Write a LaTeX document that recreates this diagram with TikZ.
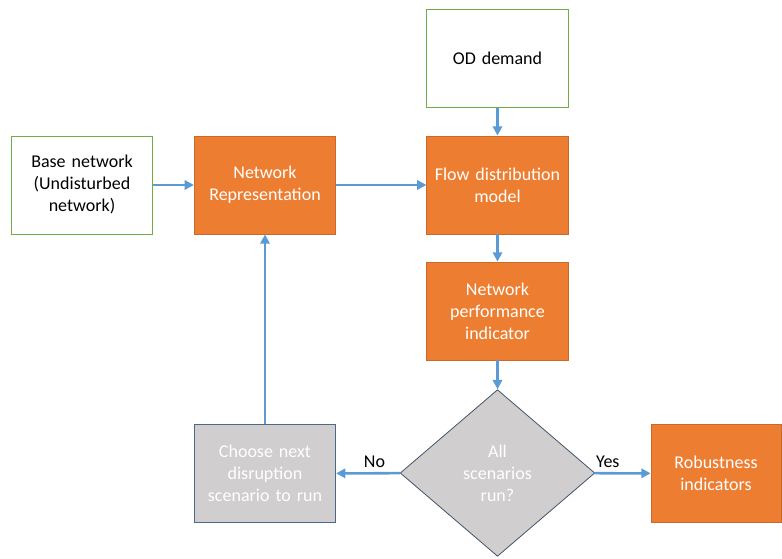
\documentclass[tikz,border=0pt]{standalone}
\usepackage{fontspec}
\setmainfont{Carlito}
\usetikzlibrary{shapes.geometric,arrows.meta}

\definecolor{boxorange}{HTML}{ED7D31}
\definecolor{boxgray}{HTML}{D0CECE}
\definecolor{flowblue}{HTML}{5B9BD5}
\definecolor{edgegreen}{HTML}{70AD47}
\definecolor{edgeslate}{HTML}{44546A}

\tikzset{
  inbox/.style={draw=edgegreen, fill=white, line width=0.6pt, inner xsep=0pt,
    minimum width=106pt, minimum height=73.5pt, align=center, text width=106pt,
    font=\fontsize{13.5}{16.5}\selectfont},
  procbox/.style={inbox, draw=boxorange!85!black, fill=boxorange, text=white},
  loopbox/.style={inbox, draw=edgeslate!70!flowblue, fill=boxgray, text=white},
  decision/.style={diamond, draw=edgeslate, fill=boxgray, line width=0.6pt, aspect=1.17,
    minimum width=146pt, minimum height=125pt, inner sep=0pt, text=white, align=center,
    font=\fontsize{13.5}{16.5}\selectfont},
  flow/.style={draw=flowblue, line width=1.9pt, -{Triangle[length=7pt,width=7pt]}},
  answer/.style={font=\fontsize{13.5}{16.5}\selectfont, text=black}
}

\begin{document}
\begin{tikzpicture}[x=0.75pt,y=-0.75pt]
\useasboundingbox (0,0) rectangle (782,559);
% input boxes
\node[inbox] (od) at (497.5,58.5) {OD demand};
\node[inbox] (base) at (82,185) {Base network\\(Undisturbed\\network)};
% model chain
\node[procbox] (netrep) at (265,185) {Network\\Representation};
\node[procbox] (flowmodel) at (497.5,185) {Flow distribution\\model};
\node[procbox] (perf) at (497.5,311) {Network\\performance\\indicator};
\node[decision] (allrun) at (497.5,473) {All\\scenarios\\run?};
\node[loopbox] (nextscen) at (265,473.5) {Choose next\\disruption\\scenario to run};
\node[procbox, minimum width=97.5pt, text width=97.5pt] (robust) at (716,473.5) {Robustness\\indicators};
% connectors
\draw[flow] (base) -- (netrep);
\draw[flow] (netrep) -- (flowmodel);
\draw[flow] (od) -- (flowmodel);
\draw[flow] (flowmodel) -- (perf);
\draw[flow] (perf) -- (allrun);
\draw[flow] (allrun) -- node[answer, above, pos=0.23] {Yes} (robust);
\draw[flow] (allrun) -- node[answer, above, pos=0.4] {No} (nextscen);
\draw[flow] (nextscen) -- (netrep);
\end{tikzpicture}
\end{document}
